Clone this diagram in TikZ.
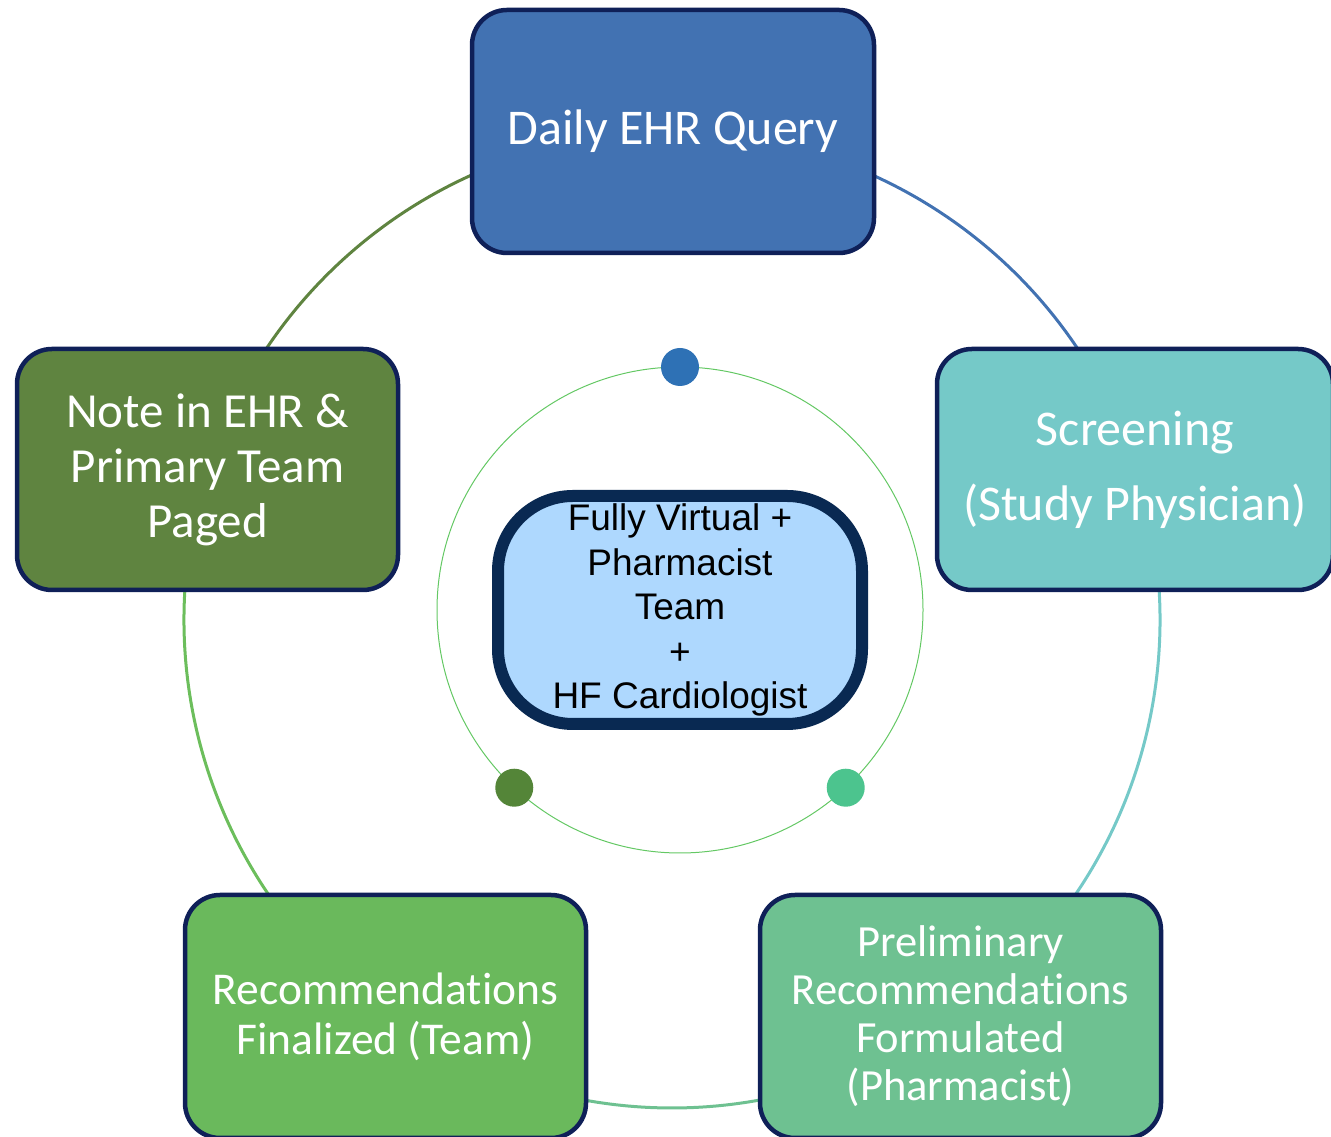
\documentclass[tikz,border=0pt]{standalone}
\usepackage{fontspec}
\setmainfont[Ligatures={NoCommon}]{Carlito}
\newfontfamily\arialf{Liberation Sans}
\usetikzlibrary{calc}
\definecolor{navyb}{RGB}{15,32,88}
\definecolor{cqry}{RGB}{66,114,178}
\definecolor{cscr}{RGB}{117,201,200}
\definecolor{cpre}{RGB}{110,193,145}
\definecolor{crec}{RGB}{106,185,92}
\definecolor{cnote}{RGB}{95,132,64}
\definecolor{ccen}{RGB}{174,216,254}
\definecolor{ccenb}{RGB}{9,41,82}
\definecolor{cinner}{RGB}{100,200,100}
\definecolor{dblue}{RGB}{46,113,181}
\definecolor{dgreen}{RGB}{84,133,56}
\definecolor{dmint}{RGB}{76,196,142}
\definecolor{arcleft}{RGB}{108,190,92}
\tikzset{
  box/.style={draw=navyb, line width=4.5pt, rounded corners=35pt, text=white, align=center, inner sep=0pt},
  ring/.style={line width=3pt},
  dotnode/.style={circle, inner sep=0pt, minimum size=38pt}
}
\begin{document}
\begin{tikzpicture}[x=1pt,y=1pt]
\useasboundingbox (0,0) rectangle (1331,1137);
\coordinate (O) at (672,517);
\coordinate (I) at (680,527);
% outer ring segments
\draw[ring, cqry] (O) ++(90:488) arc[start angle=90, end angle=18, radius=488];
\draw[ring, cscr] (O) ++(18:488) arc[start angle=18, end angle=-56, radius=488];
\draw[ring, cpre] (O) ++(-56:488) arc[start angle=-56, end angle=-123, radius=488];
\draw[ring, arcleft] (O) ++(-123:488) arc[start angle=-123, end angle=-198, radius=488];
\draw[ring, cnote] (O) ++(162:488) arc[start angle=162, end angle=90, radius=488];
% inner ring
\draw[cinner, line width=1pt] (I) circle[radius=243];
\node[dotnode, fill=dblue] (d1) at ($(I)+(90:243)$) {};
\node[dotnode, fill=dgreen] (d2) at ($(I)+(-133:243)$) {};
\node[dotnode, fill=dmint] (d3) at ($(I)+(-47:243)$) {};
% boxes
\node[box, fill=cqry, minimum width=402pt, minimum height=243pt,
  font=\fontsize{50}{55}\selectfont] (qry) at (673,1005.5) {Daily EHR Query};
\node[box, fill=cscr, minimum width=396pt, minimum height=241pt,
  font=\fontsize{50}{75}\selectfont] (scr) at (1135,667.5) {Screening\\(Study Physician)};
\node[box, fill=cpre, minimum width=401pt, minimum height=243pt,
  font=\fontsize{44.5}{48}\selectfont] (pre) at (960.5,120.5) {Preliminary\\Recommendations\\Formulated\\(Pharmacist)};
\node[box, fill=crec, minimum width=401pt, minimum height=243pt,
  font=\fontsize{45.5}{50}\selectfont] (rec) at (385.5,120.5) {Recommendations\\Finalized (Team)};
\node[box, fill=cnote, minimum width=381pt, minimum height=241pt,
  font=\fontsize{49}{55}\selectfont] (note) at (207.5,667.5) {Note in EHR \&\\Primary Team\\Paged};
% center
\node[draw=ccenb, line width=12pt, fill=ccen, rounded corners=75pt, align=center, inner sep=0pt,
  minimum width=364pt, minimum height=228pt, font=\arialf\fontsize{37}{44.5}\selectfont] (cen) at (680,527)
  {Fully Virtual +\\Pharmacist\\Team\\+\\HF Cardiologist};
\end{tikzpicture}
\end{document}
